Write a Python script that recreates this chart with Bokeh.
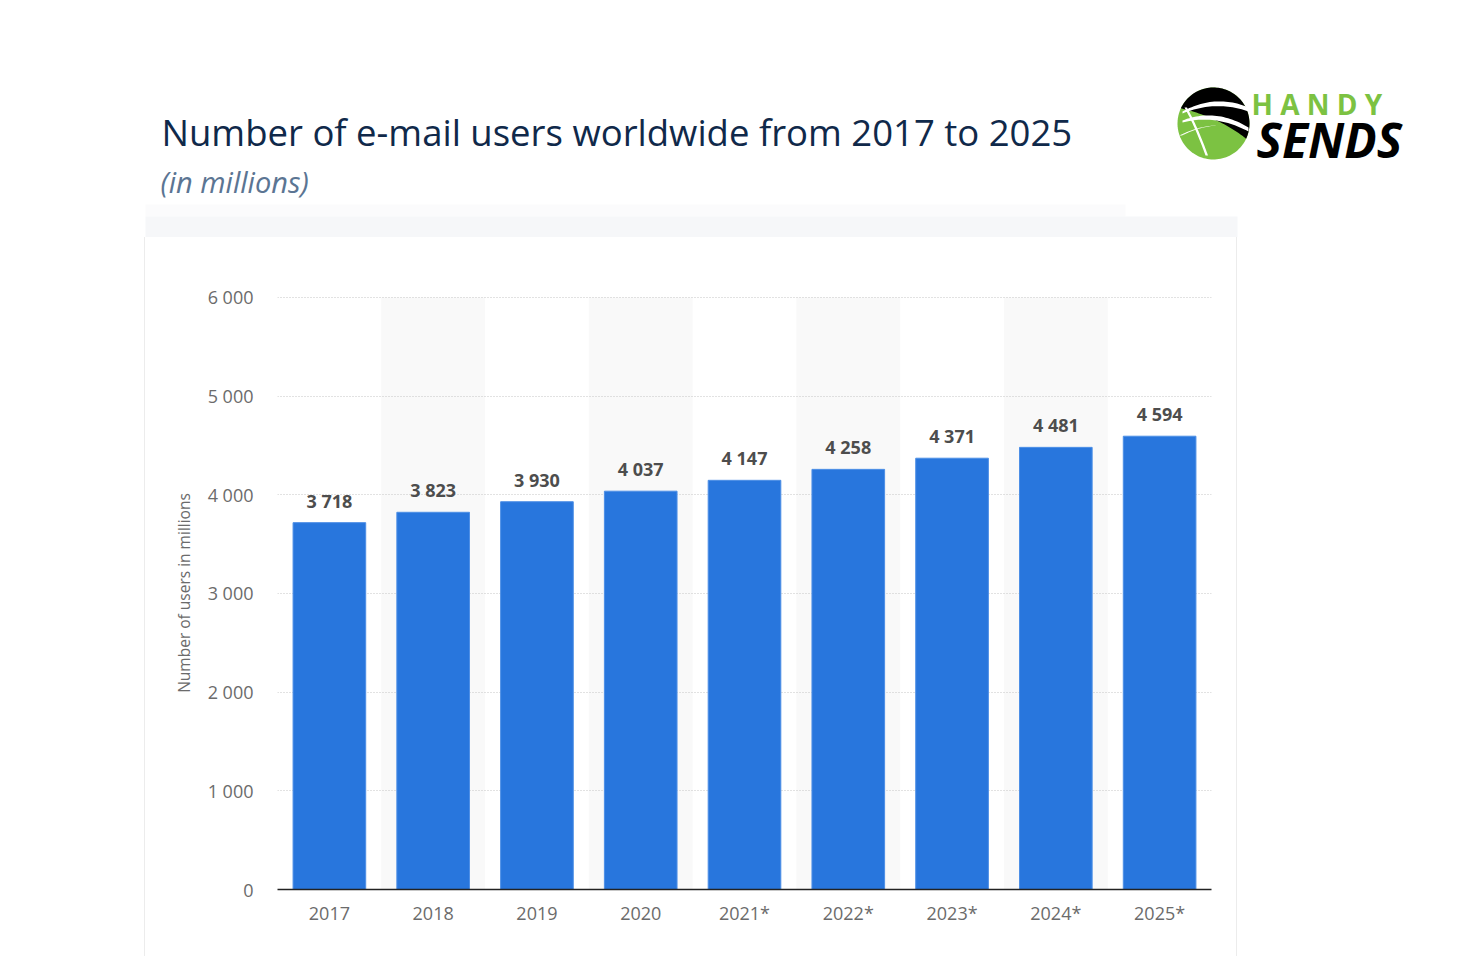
import numpy as np
from bokeh.plotting import figure
from bokeh.layouts import column, row
from bokeh.models import FactorRange, Range1d, FixedTicker, ColumnDataSource, Spacer
from bokeh.core.properties import value
from bokeh.embed import file_html
from bokeh.resources import INLINE

# ---- data ----
years = ["2017", "2018", "2019", "2020", "2021*", "2022*", "2023*", "2024*", "2025*"]
users = [3718, 3823, 3930, 4037, 4147, 4258, 4371, 4481, 4594]
y_ticks = [0, 1000, 2000, 3000, 4000, 5000, 6000]
y_tick_labels = ["0", "1 000", "2 000", "3 000", "4 000", "5 000", "6 000"]
title_text = "Number of e-mail users worldwide from 2017 to 2025"
subtitle_text = "(in millions)"
y_axis_title = "Number of users in millions"
logo_top = "H A N D Y"
logo_bottom = "SENDS"

W, H = 1464, 956
HEAD_H = 237
FONT = "Open Sans"

# ---------------- header (title, subtitle, logo) ----------------
hd = figure(width=W, height=HEAD_H, x_range=Range1d(0, W), y_range=Range1d(HEAD_H, 0),
            x_axis_type=None, y_axis_type=None, output_backend="svg",
            toolbar_location=None, min_border=0)
hd.outline_line_color = None
hd.grid.visible = False
hd.background_fill_color = "white"
hd.border_fill_color = "white"

# card top strip
hd.quad(left=[145], right=[1125], top=[204], bottom=[216], fill_color="#fbfbfc", line_color=None)
hd.quad(left=[145], right=[1237], top=[216], bottom=[HEAD_H], fill_color="#f6f7f9", line_color=None)

hd.text(x=[161], y=[131], text=[title_text], text_font=value(FONT), text_font_size="36.5px",
        text_color="#10294a", text_baseline="middle", text_align="left")
hd.text(x=[160], y=[181], text=[subtitle_text], text_font=value(FONT), text_font_size="29px",
        text_font_style="italic", text_color="#5b7593", text_baseline="middle",
        text_align="left")

# logo mark
cx, cy, r = 1213.0, 123.0, 36.0
t = np.linspace(0, 2 * np.pi, 120)
hd.patch(x=list(cx + r * np.cos(t)), y=list(cy - r * np.sin(t)), fill_color="#7cc242",
         line_color=None)


def qbez(p0, p1, p2, n=30):
    s = np.linspace(0, 1, n)
    x = (1 - s) ** 2 * p0[0] + 2 * (1 - s) * s * p1[0] + s ** 2 * p2[0]
    y = (1 - s) ** 2 * p0[1] + 2 * (1 - s) * s * p1[1] + s ** 2 * p2[1]
    return list(x), list(y)


a = np.radians(np.linspace(155, -25, 60))
arcx = list(cx + r * np.cos(a))
arcy = list(cy - r * np.sin(a))
bx, by = qbez((arcx[-1], arcy[-1]), (cx + 6, cy - 6), (arcx[0], arcy[0]))
hd.patch(x=arcx + bx, y=arcy + by, fill_color="#000000", line_color=None)
for (y0, y1, ctl, th) in [(cy - 12, cy - 16, cy - 30, 4.0), (cy - 3, cy + 4, cy - 16, 4.0)]:
    ux, uy = qbez((cx - r + 5, y0), (cx + 2, ctl), (cx + r - 1, y1))
    lx, ly = qbez((cx + r - 1, y1 + th), (cx + 2, ctl + th * 1.6), (cx - r + 5, y0 + 2))
    hd.patch(x=ux + lx, y=uy + ly, fill_color="white", line_color=None)
for (p0, p1, p2) in [((cx - r + 7, cy - 16), (cx - 18, cy + 4), (cx - 8, cy + 32)),
                     ((cx - r + 2, cy + 12), (cx - 14, cy + 2), (cx + 4, cy + 2))]:
    ux, uy = qbez(p0, p1, p2)
    lx, ly = qbez((p2[0] + 2.5, p2[1]), (p1[0] + 2.5, p1[1]), (p0[0] + 2.5, p0[1]))
    hd.patch(x=ux + lx, y=uy + ly, fill_color="white", line_color=None)

hd.text(x=[1251], y=[103], text=[logo_top], text_font=value(FONT), text_font_size="28px",
        text_font_style="bold", text_color="#7cc242", text_baseline="middle")
hd.text(x=[1256], y=[139], text=[logo_bottom], text_font=value(FONT), text_font_size="48px",
        text_font_style="bold italic", text_color="#000000", text_baseline="middle")

# ---------------- chart ----------------
CH = H - HEAD_H
p = figure(width=1091, height=CH, x_range=FactorRange(factors=years, range_padding=0),
           y_range=Range1d(0, 6010), output_backend="svg", toolbar_location=None,
           min_border_left=132, min_border_right=25, min_border_top=59,
           min_border_bottom=67)
p.outline_line_color = None
p.background_fill_color = "white"
p.border_fill_color = "white"

# alternating bands
band_years = years[1::2]
bands = p.vbar(x=band_years, top=[y_ticks[-1]] * len(band_years), width=1.0,
               fill_color="#f9f9f9", line_color=None)
bands.level = "image"

# bars and value labels
labels = [f"{v:,}".replace(",", " ") for v in users]
src = ColumnDataSource(dict(years=years, users=users, labels=labels))
p.vbar(x="years", top="users", width=0.7, source=src, fill_color="#2876dd",
       line_color="#4d8fe6", line_width=1)
p.text(x="years", y="users", text="labels", source=src, text_align="center",
       text_baseline="bottom", y_offset=-10, text_font_size="18px",
       text_font_style="bold", text_color="#4d4d4d", text_font=value(FONT))

# grid
p.xgrid.visible = False
p.ygrid.ticker = FixedTicker(ticks=y_ticks)
p.ygrid.grid_line_color = "#c4c4c4"
p.ygrid.grid_line_dash = "1 2"
p.ygrid.grid_line_width = 1

# y axis
p.yaxis.ticker = FixedTicker(ticks=y_ticks)
p.yaxis.major_label_overrides = {t: l for t, l in zip(y_ticks, y_tick_labels)}
p.yaxis.axis_line_color = None
p.yaxis.major_tick_line_color = None
p.yaxis.minor_tick_line_color = None
p.yaxis.major_label_text_font = FONT
p.yaxis.major_label_text_font_size = "18px"
p.yaxis.major_label_text_color = "#6b6b6b"
p.yaxis.major_label_standoff = 18
p.yaxis.axis_label = y_axis_title
p.yaxis.axis_label_text_font = FONT
p.yaxis.axis_label_text_font_size = "15.5px"
p.yaxis.axis_label_text_font_style = "normal"
p.yaxis.axis_label_text_color = "#6b6b6b"
p.yaxis.axis_label_standoff = 10

# x axis
p.xaxis.axis_line_color = "#222222"
p.xaxis.axis_line_width = 1.5
p.xaxis.major_tick_line_color = None
p.xaxis.minor_tick_line_color = None
p.xaxis.major_label_text_font = FONT
p.xaxis.major_label_text_font_size = "18px"
p.xaxis.major_label_text_color = "#6b6b6b"
p.xaxis.major_label_standoff = 5

edge = {"background-color": "#ececec"}
layout = column(
    hd,
    row(Spacer(width=144, height=CH), Spacer(width=1, height=CH, styles=edge), p,
        Spacer(width=1, height=CH, styles=edge)),
    spacing=0,
)

open("out.html", "w").write(file_html(layout, INLINE))
